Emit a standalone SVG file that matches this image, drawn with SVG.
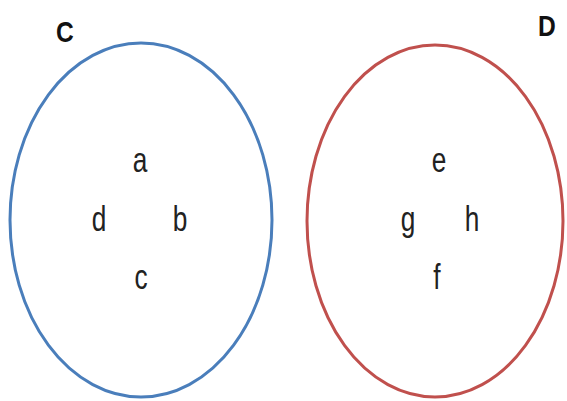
<svg xmlns="http://www.w3.org/2000/svg" width="567" height="401" viewBox="0 0 567 401">
<style>
.set{fill:none;stroke-width:3}
.el{font-family:"Liberation Sans",Arial,sans-serif;font-size:35px;fill:#222;text-anchor:middle}
.lbl{font-family:"Liberation Sans",Arial,sans-serif;font-size:30px;font-weight:bold;fill:#111;text-anchor:middle}
</style>
<rect width="567" height="401" fill="#fff"/>
<g id="setC">
<ellipse class="set" cx="141" cy="220" rx="131" ry="177" stroke="#4a7ebb"/>
<text class="lbl" x="65" y="42" transform="translate(65 0) scale(0.82 1) translate(-65 0)">C</text>
<text class="el" x="140" y="172" transform="translate(140 0) scale(0.75 1) translate(-140 0)">a</text>
<text class="el" x="99" y="231" transform="translate(99 0) scale(0.75 1) translate(-99 0)">d</text>
<text class="el" x="180" y="231" transform="translate(180 0) scale(0.75 1) translate(-180 0)">b</text>
<text class="el" x="141" y="289" transform="translate(141 0) scale(0.75 1) translate(-141 0)">c</text>
</g>
<g id="setD">
<ellipse class="set" cx="435" cy="221" rx="128" ry="176" stroke="#c0504d"/>
<text class="lbl" x="547" y="36" transform="translate(547 0) scale(0.82 1) translate(-547 0)">D</text>
<text class="el" x="439" y="172" transform="translate(439 0) scale(0.75 1) translate(-439 0)">e</text>
<text class="el" x="408" y="231" transform="translate(408 0) scale(0.75 1) translate(-408 0)">g</text>
<text class="el" x="472" y="231" transform="translate(472 0) scale(0.75 1) translate(-472 0)">h</text>
<text class="el" x="437" y="289" transform="translate(437 0) scale(0.75 1) translate(-437 0)">f</text>
</g>
<g id="connectors"></g>
</svg>
